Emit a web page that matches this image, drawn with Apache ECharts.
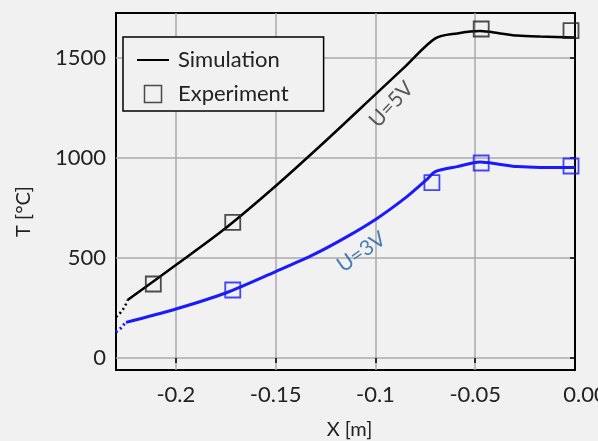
<!DOCTYPE html>
<html style="height: 100%">
<head>
<meta charset="utf-8" />
<title>T vs X</title>
<script src="https://cdn.jsdelivr.net/npm/echarts@6/dist/echarts.min.js"></script>
</head>
<body style="height: 100%; margin: 0; background: #f1f1f1">
<div id="container" style="width: 598px; height: 441px"></div>
<script type="text/javascript">
// simulation, U=5V (dotted start then solid)
const sim5Dotted = [[-0.23, 205], [-0.2287, 215], [-0.2265, 243], [-0.225, 270], [-0.2242, 290]];
const sim5 = [[-0.2242, 290], [-0.2, 465], [-0.175, 650], [-0.15, 860], [-0.125, 1085], [-0.1, 1318],
  [-0.085, 1458], [-0.07, 1598], [-0.059, 1623], [-0.0475, 1635], [-0.0375, 1623], [-0.029, 1612],
  [-0.0175, 1607], [0, 1603]];
// simulation, U=3V
const sim3Dotted = [[-0.23, 130], [-0.2275, 150], [-0.226, 168], [-0.225, 178]];
const sim3 = [[-0.225, 178], [-0.2, 245], [-0.175, 325], [-0.15, 432], [-0.1308, 518], [-0.1142, 607],
  [-0.0992, 698], [-0.0842, 807], [-0.0742, 893], [-0.07, 932], [-0.059, 957], [-0.0475, 980],
  [-0.0375, 968], [-0.029, 957], [-0.0175, 953], [0, 953]];
// experiment
const exp5 = [[-0.2113, 370], [-0.1715, 678], [-0.047, 1645], [-0.002, 1637]];
const exp3 = [[-0.1715, 340], [-0.0717, 877], [-0.047, 975], [-0.002, 960]];
// curve labels
const curveLabels = [
  {name: 'U=5V', value: [-0.092, 1268], rotate: 47, color: '#333333'},
  {name: 'U=3V', value: [-0.107, 530], rotate: 35, color: '#1f5fa6'}
];
const xTicks = [-0.2, -0.15, -0.1, -0.05, 0];
const yTicks = [0, 500, 1000, 1500];

const font = 'Lato';
const blue = '#1a1aff';
const gridColor = '#aaaaaa';

let chart = echarts.init(document.getElementById('container'));
chart.setOption({
  backgroundColor: '#f1f1f1',
  animation: false,
  textStyle: {fontFamily: font},
  grid: {left: 116, right: 23, top: 13, bottom: 71, show: true, borderColor: '#000', borderWidth: 2,
    outerBoundsMode: 'none', containLabel: false},
  legend: {
    left: 123, top: 37, orient: 'vertical',
    data: [
      {name: 'Simulation', icon: 'path://M0,0 H32 V2 H0 Z', itemStyle: {color: '#000', borderWidth: 0}},
      {name: 'Experiment', icon: 'path://M0,0 H10 V10 H0 Z', itemStyle: {color: 'rgba(0,0,0,0)', borderColor: '#222', borderWidth: 1.5}}
    ],
    itemWidth: 32, itemHeight: 17, itemGap: 12,
    padding: [12, 35, 6, 14],
    borderColor: '#000', borderWidth: 1.5, borderRadius: 0,
    backgroundColor: '#f1f1f1',
    textStyle: {fontFamily: font, fontSize: 22, color: '#222', padding: [0, 0, 0, 4]}
  },
  xAxis: {
    type: 'value', min: -0.23, max: 0,
    name: 'X [m]', nameLocation: 'middle', nameGap: 50,
    nameTextStyle: {fontFamily: font, fontSize: 20, color: '#222', padding: [0, 0, 0, 8]},
    axisLine: {show: false},
    axisTick: {show: true, customValues: xTicks, length: 5, lineStyle: {color: '#000', width: 1.5}},
    axisLabel: {
      customValues: xTicks, margin: 14, fontFamily: font, fontSize: 22, color: '#222',
      formatter: v => v === 0 ? '{s|}{z|0.00}' : String(v),
      rich: {s: {width: 20}, z: {fontFamily: font, fontSize: 22, color: '#222'}}
    },
    splitLine: {show: true, showMaxLine: false, lineStyle: {color: gridColor, width: 1.5}}
  },
  yAxis: {
    type: 'value', min: -60, max: 1725,
    name: 'T [°C]', nameLocation: 'middle', nameGap: 82,
    nameTextStyle: {fontFamily: font, fontSize: 20, color: '#222', padding: [0, 40, 0, 0]},
    axisLine: {show: false},
    axisTick: {show: true, customValues: yTicks, length: 5, lineStyle: {color: '#000', width: 1.5}},
    axisLabel: {customValues: yTicks, margin: 10, fontFamily: font, fontSize: 22, color: '#222',
      formatter: v => String(v)},
    splitLine: {show: true, lineStyle: {color: gridColor, width: 1.5}}
  },
  series: [
    {name: 'Simulation', type: 'line', data: sim5, symbol: 'none', smooth: 0.3,
      lineStyle: {color: '#000', width: 2.5}, itemStyle: {color: '#000'}, z: 3},
    {name: 'sim5dot', type: 'line', data: sim5Dotted, symbol: 'none',
      lineStyle: {color: '#000', width: 2.5, type: [2, 3]}, z: 3},
    {name: 'sim3', type: 'line', data: sim3, symbol: 'none', smooth: 0.3,
      lineStyle: {color: blue, width: 3}, z: 3},
    {name: 'sim3dot', type: 'line', data: sim3Dotted, symbol: 'none',
      lineStyle: {color: blue, width: 3, type: [2, 3]}, z: 3},
    {name: 'Experiment', type: 'scatter', data: exp5, symbol: 'rect', symbolSize: 15,
      itemStyle: {color: 'rgba(0,0,0,0)', borderColor: '#222', borderWidth: 1.8}, z: 4},
    {name: 'exp3', type: 'scatter', data: exp3, symbol: 'rect', symbolSize: 15,
      itemStyle: {color: 'rgba(0,0,0,0)', borderColor: blue, borderWidth: 1.8}, z: 4},
    {name: 'labels', type: 'scatter', symbolSize: 0, silent: true, z: 5,
      data: curveLabels.map(d => ({
        name: d.name, value: d.value,
        label: {show: true, position: 'inside', formatter: '{b}', rotate: d.rotate,
          fontFamily: font, fontSize: 21, color: d.color}
      }))}
  ]
});
</script>
</body>
</html>
